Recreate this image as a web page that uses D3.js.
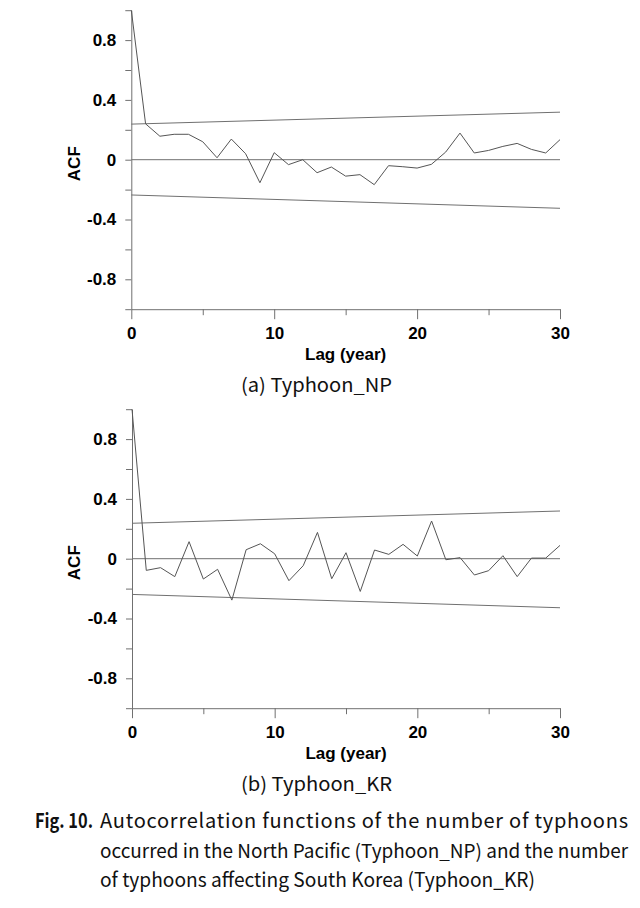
<!DOCTYPE html>
<html><head><meta charset="utf-8">
<script src="https://cdn.jsdelivr.net/npm/d3@7"></script>
<style>body{margin:0;background:#fff}svg{display:block}</style>
</head><body>
<svg id="c" width="640" height="908"></svg>
<script>
const lags = [0,1,2,3,4,5,6,7,8,9,10,11,12,13,14,15,16,17,18,19,20,21,22,23,24,25,26,27,28,29,30];
const acfNP = [1.0,0.24,0.157,0.17,0.17,0.12,0.013,0.138,0.04,-0.154,0.047,-0.033,0.0,-0.087,-0.049,-0.11,-0.10,-0.167,-0.04,-0.047,-0.056,-0.031,0.051,0.178,0.045,0.062,0.089,0.109,0.069,0.045,0.134];
const acfKR = [1.0,-0.078,-0.06,-0.12,0.114,-0.136,-0.071,-0.277,0.06,0.10,0.033,-0.147,-0.047,0.176,-0.134,0.04,-0.219,0.058,0.029,0.096,0.018,0.252,-0.007,0.007,-0.109,-0.08,0.02,-0.12,0.004,0.004,0.089];
const bandLags = [0,30];
const npUpper = [0.238,0.318], npLower = [-0.236,-0.325];
const krUpper = [0.237,0.319], krLower = [-0.239,-0.328];
const yTicks = [-1,-0.8,-0.6,-0.4,-0.2,0,0.2,0.4,0.6,0.8,1];
const yLabels = {"-0.8":"-0.8","-0.4":"-0.4","0":"0","0.4":"0.4","0.8":"0.8"};
const xTicks = [0,5,10,15,20,25,30];
const xLabels = [0,10,20,30];
const subtitles = ["(a) Typhoon_NP","(b) Typhoon_KR"];
const captionLead = "Fig. 10.";
const captionLines = ["Autocorrelation functions of the number of typhoons",
  "occurred in the North Pacific (Typhoon_NP) and the number",
  "of typhoons affecting South Korea (Typhoon_KR)"];

const svg = d3.select("#c");
const GRAY = "#707070";
const FONT = "'Liberation Sans', Arial, sans-serif";

function panel(oy, x0, acf, up, lo, sub) {
  const x = d3.scaleLinear().domain([0,30]).range([x0, 560]);
  const y = d3.scaleLinear().domain([-1,1]).range([oy+309.2, oy+10.2]);
  const g = svg.append("g");
  const ya = g.append("g").attr("transform",`translate(${x0},0)`)
    .call(d3.axisLeft(y).tickValues(yTicks).tickSize(6).tickSizeOuter(0).tickPadding(9)
      .tickFormat(d => { const k = String(Math.round(d*10)/10); return yLabels[k] !== undefined ? yLabels[k] : ""; }));
  const xa = g.append("g").attr("transform",`translate(0,${y(-1)})`)
    .call(d3.axisBottom(x).tickValues(xTicks).tickSize(10).tickSizeOuter(0).tickPadding(8)
      .tickFormat(d => xLabels.includes(d) ? d : ""));
  xa.selectAll(".tick line").attr("y2", d => xLabels.includes(d) ? 10 : 6);
  [ya, xa].forEach(a => {
    a.select(".domain").attr("stroke", GRAY);
    a.selectAll(".tick line").attr("stroke", GRAY);
    a.selectAll("text").attr("font-family", FONT).attr("font-weight","bold").attr("font-size",17).attr("fill","#000");
  });
  g.append("line").attr("x1",x(0)).attr("x2",x(30)).attr("y1",y(0)).attr("y2",y(0)).attr("stroke",GRAY);
  const bl = d3.line().x((d,i)=>x(bandLags[i])).y(d=>y(d));
  g.append("path").attr("d",bl(up)).attr("fill","none").attr("stroke",GRAY);
  g.append("path").attr("d",bl(lo)).attr("fill","none").attr("stroke",GRAY);
  const ln = d3.line().x((d,i)=>x(lags[i])).y(d=>y(d));
  g.append("path").attr("d",ln(acf)).attr("fill","none").attr("stroke","#555").attr("stroke-width",1);
  g.append("text").attr("transform",`translate(80,${y(0)+4}) rotate(-90)`).attr("text-anchor","middle")
    .attr("font-family",FONT).attr("font-weight","bold").attr("font-size",17).text("ACF");
  g.append("text").attr("x",(x0+560)/2).attr("y",y(-1)+51).attr("text-anchor","middle")
    .attr("font-family",FONT).attr("font-weight","bold").attr("font-size",17).text("Lag (year)");
  g.append("text").attr("x",241).attr("y",y(-1)+83).attr("textLength",151).attr("lengthAdjust","spacingAndGlyphs")
    .attr("font-family","'Noto Sans CJK KR','Noto Sans',sans-serif").attr("font-size",19).attr("fill","#111").text(sub);
}
panel(0, 131.3, acfNP, npUpper, npLower, subtitles[0]);
panel(399, 132, acfKR, krUpper, krLower, subtitles[1]);

const CF = "'Noto Sans CJK KR','Noto Sans',sans-serif";
svg.append("text").attr("x",35).attr("y",828).attr("font-family",CF).attr("font-weight","bold")
  .attr("font-size",20).attr("fill","#111").attr("textLength",58).attr("lengthAdjust","spacingAndGlyphs").text(captionLead);
const capX = [100,100,100], capY = [828,858,887], capW = [528,528,435], capS = [20,19,20];
captionLines.forEach((t,i) => {
  svg.append("text").attr("x",capX[i]).attr("y",capY[i]).attr("font-family",CF)
    .attr("font-size",capS[i]).attr("fill","#111").attr("textLength",capW[i])
    .attr("lengthAdjust", i===0 ? "spacing" : "spacingAndGlyphs").text(t);
});
</script>
</body></html>
